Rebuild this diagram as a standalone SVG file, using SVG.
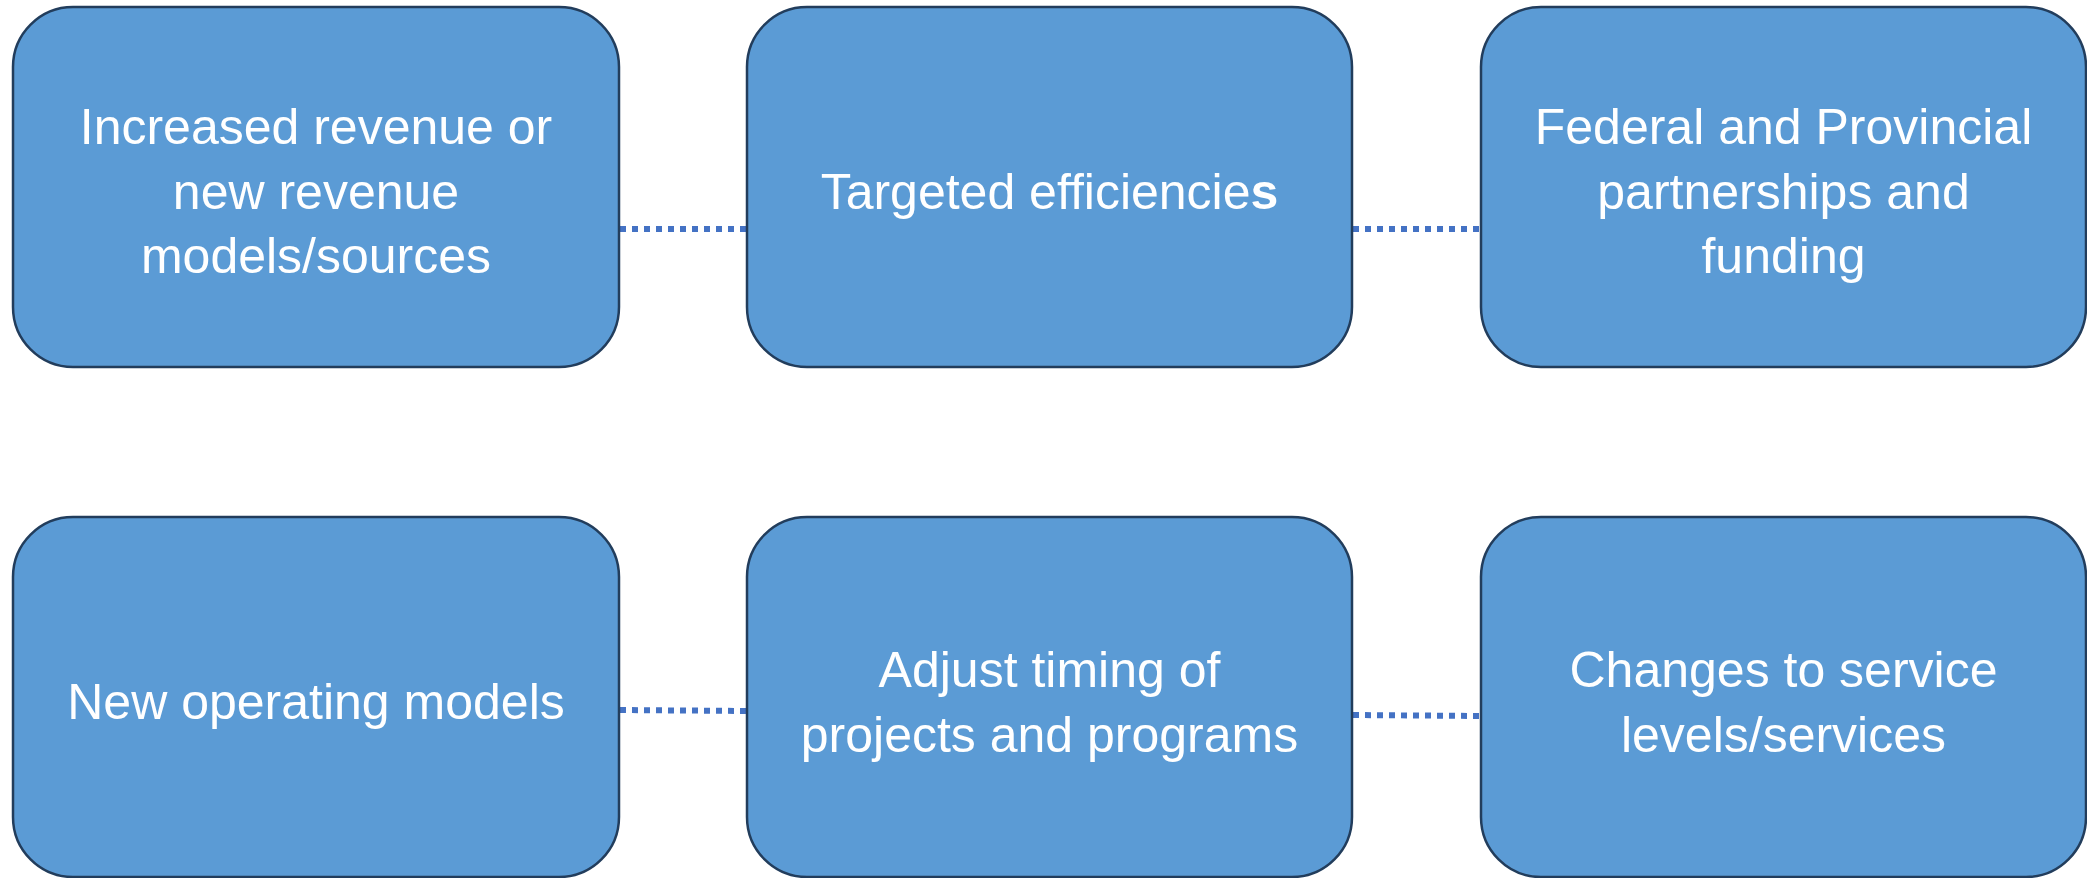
<svg xmlns="http://www.w3.org/2000/svg" width="2087" height="878" viewBox="0 0 2087 878">
  <style>
    .box { fill: #5b9bd5; stroke: #223d5c; stroke-width: 2.5; }
    .label { fill: #ffffff; font-family: "Liberation Sans", Arial, sans-serif; font-size: 50px; text-anchor: middle; }
    .link { fill: none; stroke: #4472c4; stroke-width: 6; stroke-dasharray: 6 6; }
  </style>
  <rect width="2087" height="878" fill="#ffffff"/>

  <!-- dotted connectors between neighbouring boxes -->
  <g id="connectors">
    <line class="link" x1="620" y1="229" x2="747" y2="229"/>
    <line class="link" x1="1353" y1="229" x2="1481" y2="229"/>
    <line class="link" x1="620" y1="710" x2="747" y2="711"/>
    <line class="link" x1="1353" y1="715" x2="1481" y2="716"/>
  </g>

  <!-- top row -->
  <g id="node-revenue">
    <rect class="box" x="13" y="7" width="606" height="360" rx="60" ry="60"/>
    <text class="label" x="316" y="144">Increased revenue or</text>
    <text class="label" x="316" y="208.5">new revenue</text>
    <text class="label" x="316" y="273">models/sources</text>
  </g>
  <g id="node-efficiencies">
    <rect class="box" x="747" y="7" width="605" height="360" rx="60" ry="60"/>
    <text class="label" x="1049.5" y="208.5">Targeted efficiencie<tspan font-weight="bold">s</tspan></text>
  </g>
  <g id="node-partnerships">
    <rect class="box" x="1481" y="7" width="605" height="360" rx="60" ry="60"/>
    <text class="label" x="1783.5" y="144">Federal and Provincial</text>
    <text class="label" x="1783.5" y="208.5">partnerships and</text>
    <text class="label" x="1783.5" y="273">funding</text>
  </g>

  <!-- bottom row -->
  <g id="node-operating">
    <rect class="box" x="13" y="517" width="606" height="360" rx="60" ry="60"/>
    <text class="label" x="316" y="719">New operating models</text>
  </g>
  <g id="node-timing">
    <rect class="box" x="747" y="517" width="605" height="360" rx="60" ry="60"/>
    <text class="label" x="1049.5" y="687">Adjust timing of</text>
    <text class="label" x="1049.5" y="752">projects and programs</text>
  </g>
  <g id="node-service">
    <rect class="box" x="1481" y="517" width="605" height="360" rx="60" ry="60"/>
    <text class="label" x="1783.5" y="687">Changes to service</text>
    <text class="label" x="1783.5" y="752">levels/services</text>
  </g>
</svg>
